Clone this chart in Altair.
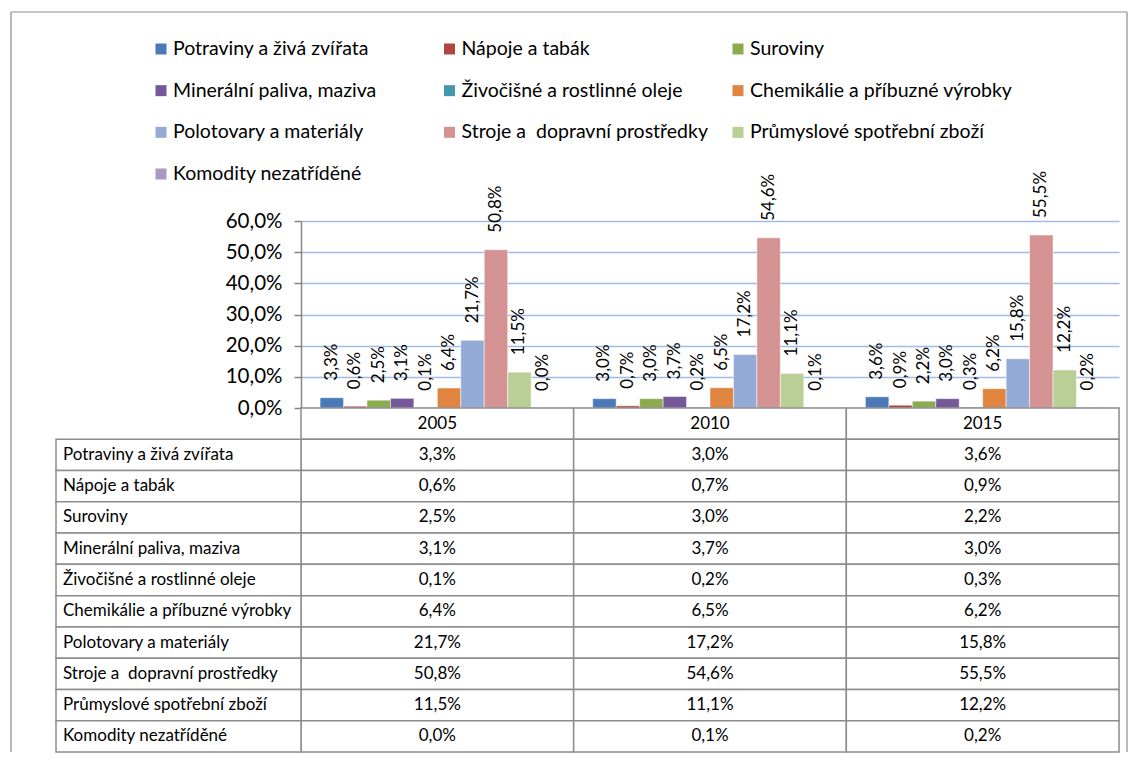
import altair as alt
import pandas as pd

years = ["2005", "2010", "2015"]
categories = [
    "Potraviny a živá zvířata",
    "Nápoje a tabák",
    "Suroviny",
    "Minerální paliva, maziva",
    "Živočišné a rostlinné oleje",
    "Chemikálie a příbuzné výrobky",
    "Polotovary a materiály",
    "Stroje a\u00a0 dopravní prostředky",
    "Průmyslové spotřební zboží",
    "Komodity nezatříděné",
]
colors = ["#4A7AB7", "#B24542", "#8CAA4E", "#74589A", "#4198AF",
          "#E0843F", "#93ABD6", "#D49392", "#BACF96", "#A99AC4"]
v2005 = [3.3, 0.6, 2.5, 3.1, 0.1, 6.4, 21.7, 50.8, 11.5, 0.0]
v2010 = [3.0, 0.7, 3.0, 3.7, 0.2, 6.5, 17.2, 54.6, 11.1, 0.1]
v2015 = [3.6, 0.9, 2.2, 3.0, 0.3, 6.2, 15.8, 55.5, 12.2, 0.2]
y_ticks = [0, 10, 20, 30, 40, 50, 60]

FONT = "Lato"
GRAY = "#8C8C8C"


def fmt(v):
    return f"{v:.1f}".replace(".", ",") + "%"


rows = []
for yr, vals in zip(years, [v2005, v2010, v2015]):
    for c, v in zip(categories, vals):
        rows.append({"year": yr, "cat": c, "value": v, "label": fmt(v)})
df = pd.DataFrame(rows)

color_scale = alt.Scale(domain=categories, range=colors)

# ---------------- legend row (plot origin = bar plot origin) ----------------
legend_df = pd.DataFrame({
    "cat": categories,
    "col": [i % 3 for i in range(len(categories))],
    "row": [i // 3 for i in range(len(categories))],
})
lx = alt.X("col:O", scale=alt.Scale(type="point", range=[-140, 437], padding=0), axis=None)
ly = alt.Y("row:O", scale=alt.Scale(type="point", range=[37, 162], padding=0), axis=None)
leg_sq = alt.Chart(legend_df).mark_square(size=121, opacity=1).encode(
    x=lx, y=ly, color=alt.Color("cat:N", scale=color_scale, legend=None))
leg_txt = alt.Chart(legend_df).mark_text(
    align="left", baseline="middle", dx=12, fontSize=19.5, font=FONT, color="black"
).encode(x=lx, y=ly, text="cat:N")

one = pd.DataFrame({"b": [0]})
frame_top = alt.Chart(one).mark_rule(color=GRAY, strokeWidth=1.2).encode(
    x=alt.value(-290), x2=alt.value(826), y=alt.value(0))
frame_left = alt.Chart(one).mark_rule(color=GRAY, strokeWidth=1.2).encode(
    x=alt.value(-290), y=alt.value(0), y2=alt.value(740))
frame_right = alt.Chart(one).mark_rule(color=GRAY, strokeWidth=1.2).encode(
    x=alt.value(826), y=alt.value(0), y2=alt.value(740))
legend = alt.layer(frame_top, frame_left, frame_right, leg_sq, leg_txt).properties(width=818, height=209)

# ---------------- bar chart row ----------------
bx = alt.X("year:N", scale=alt.Scale(domain=years, paddingInner=0.14, paddingOuter=0.07), axis=None)
bxo = alt.XOffset("cat:N", scale=alt.Scale(domain=categories, paddingInner=0, paddingOuter=0))
y_scale = alt.Scale(domain=[0, 60], nice=False)
y_axis = alt.Axis(
    values=y_ticks, tickCount=7, labelOverlap=False, title=None,
    labelExpr="replace(format(datum.value, '.1f'), '.', ',') + '%'",
    labelFont=FONT, labelFontSize=20.5, labelColor="black", labelPadding=12,
    domainColor="#868686", domainWidth=1.5, tickColor="#868686", tickSize=7, tickWidth=1.5,
    gridColor="#A0BBE4", gridWidth=1.5,
)
by = alt.Y("value:Q", scale=y_scale, axis=y_axis)
bars = alt.Chart(df).mark_bar(stroke="white", strokeWidth=0.5).encode(
    x=bx, xOffset=bxo, y=by, color=alt.Color("cat:N", scale=color_scale, legend=None))
bar_labels = alt.Chart(df).mark_text(
    angle=270, align="left", baseline="middle", dx=17, fontSize=17, font=FONT, color="black"
).encode(x=bx, xOffset=bxo, y=by, text="label:N")
bar_chart = alt.layer(bars, bar_labels).properties(width=818, height=187)

# ---------------- data table row ----------------
row_domain = ["header"] + categories
trows = []
for yr, vals in zip(years, [v2005, v2010, v2015]):
    trows.append({"year": yr, "row": "header", "text": yr})
    for c, v in zip(categories, vals):
        trows.append({"year": yr, "row": c, "text": fmt(v)})
tdf = pd.DataFrame(trows)

ty = alt.Y("row:N", scale=alt.Scale(domain=row_domain, paddingInner=0, paddingOuter=0), axis=None)
tx = alt.X("year:N", scale=alt.Scale(domain=years, paddingInner=0, paddingOuter=0), axis=None)
val_rect = alt.Chart(tdf).mark_rect(fill="white", stroke=GRAY, strokeWidth=1.5).encode(x=tx, y=ty)
val_text = alt.Chart(tdf).mark_text(fontSize=17, font=FONT, color="black").encode(
    x=tx, y=ty, text="text:N")

# label column: spans 0..1 on its own linear scale, mapped left of the value columns
ldf = pd.DataFrame({"row": categories, "c0": [0] * len(categories), "c1": [1] * len(categories)})
lab_scale = alt.Scale(domain=[0, 1], range=[-245, 0], nice=False, zero=False)
lab_rect = alt.Chart(ldf).mark_rect(fill="white", stroke=GRAY, strokeWidth=1.5).encode(
    x=alt.X("c0:Q", scale=lab_scale, axis=None), x2="c1:Q", y=ty)
lab_text = alt.Chart(ldf).mark_text(
    align="left", dx=7, fontSize=17, font=FONT, color="black"
).encode(x=alt.X("c0:Q", scale=lab_scale, axis=None), y=ty, text="row:N")
label_col = alt.layer(lab_rect, lab_text)

table = alt.layer(alt.layer(val_rect, val_text), label_col).resolve_scale(x="independent").properties(
    width=818, height=344)

chart = alt.vconcat(legend, bar_chart, table, spacing=0, bounds="flush").properties(
    padding={"left": 2, "top": 3, "right": 0, "bottom": 0}
).configure_view(stroke=None)

chart.save("out.html", embed_options={"renderer": "svg", "actions": False})
